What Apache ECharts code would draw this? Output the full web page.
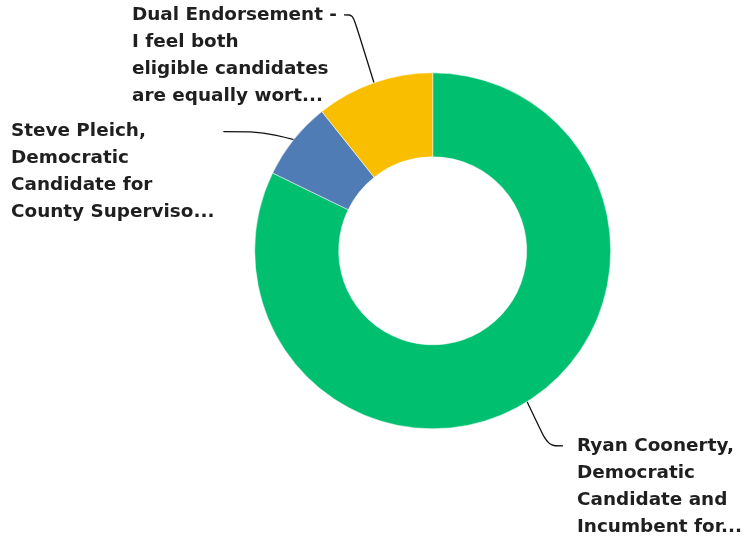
<!DOCTYPE html>
<html>
<head>
<meta charset="utf-8">
<script src="https://cdn.jsdelivr.net/npm/echarts@6/dist/echarts.min.js"></script>
<style>html,body{margin:0;padding:0;background:#fff}#c{width:743px;height:540px}</style>
</head>
<body>
<div id="c"></div>
<script>
var categories = [
  'Ryan Coonerty,\nDemocratic\nCandidate and\nIncumbent for...',
  'Steve Pleich,\nDemocratic\nCandidate for\nCounty Superviso...',
  'Dual Endorsement -\nI feel both\neligible candidates\nare equally wort...'
];
var values = [82.2, 7.1, 10.7];
var colors = ['#00BF6F', '#507CB6', '#F9BE00'];

// label placement (style only)
var LH = 27;
var labelPos = [
  {x: 563, y: 445.8 - 3.5 * LH, pad: [3 * LH, 0, 0, 14], len2: 15},
  {x: 11, y: 131.7 - 3.5 * LH, pad: [3 * LH, 9, 0, 0], len2: 40},
  {x: 132, y: 14.8 - 3.5 * LH, pad: [3 * LH, 7, 0, 0], len2: 9}
];

var chart = echarts.init(document.getElementById('c'), null, {renderer: 'canvas'});
var data = categories.map(function (n, i) {
  return {
    name: n,
    value: values[i],
    itemStyle: {color: colors[i]},
    label: {padding: labelPos[i].pad},
    labelLine: {length2: labelPos[i].len2}
  };
});
chart.setOption({
  animation: false,
  series: [{
    type: 'pie',
    center: [432.7, 250.8],
    radius: [94, 178],
    startAngle: 90,
    clockwise: true,
    avoidLabelOverlap: false,
    silent: true,
    itemStyle: {borderColor: '#fff', borderWidth: 0.5},
    label: {
      show: true,
      position: 'outside',
      fontFamily: 'DejaVu Sans',
      fontWeight: 'bold',
      fontSize: 18.4,
      lineHeight: LH,
      color: '#1f1f1f',
      align: 'left',
      backgroundColor: 'rgba(255,255,255,0)'
    },
    labelLine: {
      show: true,
      length: 10,
      smooth: 0.35,
      lineStyle: {color: '#111', width: 1.3}
    },
    labelLayout: function (p) {
      var lp = labelPos[p.dataIndex];
      return {x: lp.x, y: lp.y, align: 'left', verticalAlign: 'top'};
    },
    data: data
  }]
});
</script>
</body>
</html>
